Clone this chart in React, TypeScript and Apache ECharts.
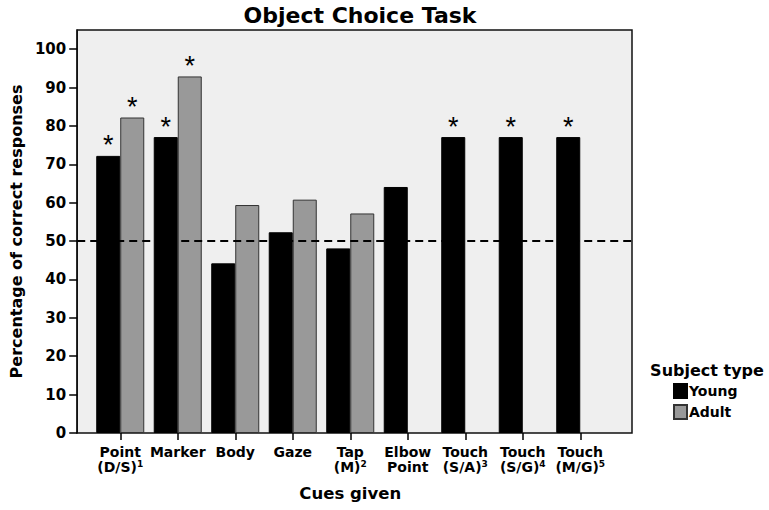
import React, { useEffect, useRef } from "react";
import * as echarts from "echarts";

const categories = [
  "Point\n(D/S)",
  "Marker",
  "Body",
  "Gaze",
  "Tap\n(M)",
  "Elbow\nPoint",
  "Touch\n(S/A)",
  "Touch\n(S/G)",
  "Touch\n(M/G)",
];
const superscripts = ["1", "", "", "", "2", "", "3", "4", "5"];
const youngValues = [72.2, 77.1, 44.2, 52.3, 48.1, 64.1, 77.1, 77.1, 77.1];
const adultValues: (number | null)[] = [82.2, 92.9, 59.4, 60.8, 57.2, null, null, null, null];
const youngSignificant = [true, true, false, false, false, false, true, true, true];
const adultSignificant = [true, true, false, false, false, false, false, false, false];
const chanceLevel = 50;
const yTicks = [0, 10, 20, 30, 40, 50, 60, 70, 80, 90, 100];

const FONT = "'DejaVu Sans', 'Liberation Sans', Arial, sans-serif";
const STAR_FONT = "'Liberation Sans', Arial, sans-serif";

export default function App() {
  const ref = useRef<HTMLDivElement>(null);
  useEffect(() => {
    if (!ref.current) return;
    const chart = echarts.init(ref.current, null, { renderer: "svg" });
    const starLabel = (show: boolean) => ({
      show,
      position: "top",
      distance: -3,
      formatter: "*",
      fontSize: 27,
      fontFamily: STAR_FONT,
      color: "#000",
    });
    chart.setOption({
      animation: false,
      backgroundColor: "#fff",
      textStyle: { fontFamily: FONT },
      grid: [
        {
          left: 68, right: 137, top: 30, bottom: 77,
          show: true, backgroundColor: "#efefef", borderColor: "#111", borderWidth: 1.5,
          containLabel: false,
        },
        { left: 91.5, right: 160, top: 30, bottom: 77, containLabel: false },
      ],
      xAxis: [
        { gridIndex: 0, type: "value", min: 0, max: 1, show: false },
        {
          gridIndex: 1,
          type: "category",
          data: categories,
          axisLine: { show: false },
          axisTick: { show: true, alignWithLabel: true, length: 7, lineStyle: { color: "#000", width: 1.5 } },
          axisLabel: {
            margin: 11,
            interval: 0,
            color: "#000",
            fontWeight: "bold",
            fontSize: 14,
            lineHeight: 15,
            fontFamily: FONT,
            formatter: (v: string, i: number) =>
              superscripts[i] ? `${v}{s|${superscripts[i]}}` : v,
            rich: {
              s: { fontSize: 9, fontWeight: "bold", verticalAlign: "top", lineHeight: 15, fontFamily: FONT, color: "#000" },
            },
          },
          name: "Cues given",
          nameLocation: "middle",
          nameGap: 52,
          nameTextStyle: { fontSize: 16.5, fontWeight: "bold", color: "#000", fontFamily: FONT },
        },
      ],
      yAxis: [
        {
          gridIndex: 0,
          type: "value",
          min: 0,
          max: 105,
          splitLine: { show: false },
          axisLine: { show: true, lineStyle: { color: "#111", width: 1.5 } },
          axisTick: { show: true, length: 8, customValues: yTicks, lineStyle: { color: "#000", width: 1.5 } },
          axisLabel: {
            customValues: yTicks,
            margin: 11,
            color: "#000",
            fontWeight: "bold",
            fontSize: 15,
            fontFamily: FONT,
          },
          name: "Percentage of correct responses",
          nameLocation: "middle",
          nameGap: 50,
          nameTextStyle: { fontSize: 16, fontWeight: "bold", color: "#000", fontFamily: FONT },
        },
        { gridIndex: 1, type: "value", min: 0, max: 105, show: false },
      ],
      legend: {
        data: ["Young", "Adult"],
        orient: "vertical",
        left: 668,
        top: 378,
        itemWidth: 13,
        itemHeight: 14,
        itemGap: 5,
        icon: "rect",
        textStyle: { fontSize: 14, fontWeight: "bold", color: "#000", fontFamily: FONT, padding: [0, 0, 0, -3] },
      },
      graphic: [
        {
          type: "text",
          x: 360,
          y: 4,
          style: { text: "Object Choice Task", font: `bold 22px ${FONT}`, fill: "#000", textAlign: "center" },
        },
        {
          type: "text",
          x: 707,
          y: 362,
          style: { text: "Subject type", font: `bold 16px ${FONT}`, fill: "#000", textAlign: "center" },
        },
      ],
      series: [
        {
          type: "line",
          xAxisIndex: 0,
          yAxisIndex: 0,
          data: [],
          silent: true,
          markLine: {
            silent: true,
            symbol: "none",
            label: { show: false },
            lineStyle: { color: "#000", width: 2, type: [8, 5] },
            data: [{ yAxis: chanceLevel }],
          },
        },
        {
          name: "Young",
          type: "bar",
          xAxisIndex: 1,
          yAxisIndex: 1,
          barGap: "0%",
          barCategoryGap: "16.5%",
          itemStyle: { color: "#000", borderColor: "#000", borderWidth: 1 },
          data: youngValues.map((v, i) => ({ value: v, label: starLabel(youngSignificant[i]) })),
        },
        {
          name: "Adult",
          type: "bar",
          xAxisIndex: 1,
          yAxisIndex: 1,
          barGap: "0%",
          barCategoryGap: "16.5%",
          itemStyle: { color: "#999999", borderColor: "#333", borderWidth: 1 },
          data: adultValues.map((v, i) => ({ value: v, label: starLabel(adultSignificant[i]) })),
        },
      ],
    });
    return () => chart.dispose();
  }, []);
  return (
    <div
      ref={ref}
      style={{ position: "fixed", left: 0, top: 0, width: 769, height: 510 }}
    />
  );
}
